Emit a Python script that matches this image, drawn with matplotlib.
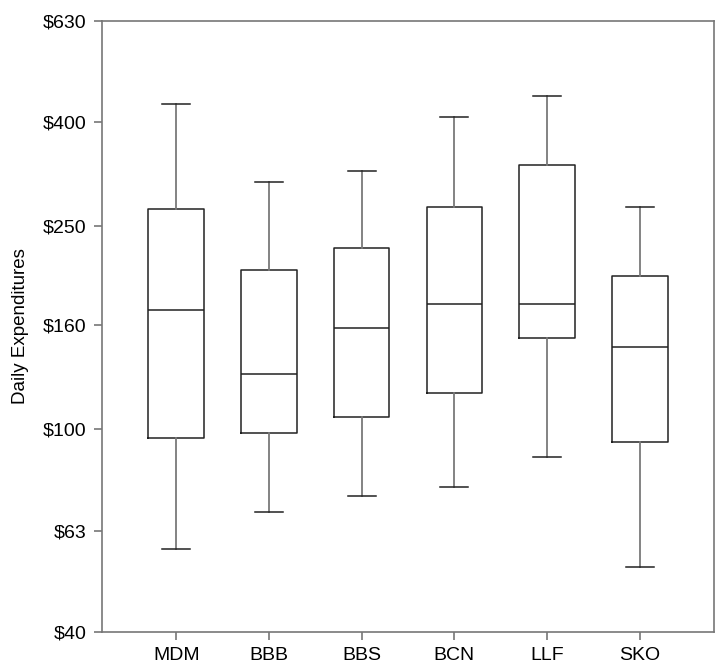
import matplotlib
matplotlib.use("Agg")
import matplotlib.pyplot as plt
from matplotlib.ticker import FixedLocator, NullLocator

plt.rcParams['font.family'] = ['Liberation Sans', 'DejaVu Sans']

# box plot stats (daily expenditures, $)
groups = ['MDM', 'BBB', 'BBS', 'BCN', 'LLF', 'SKO']
whislo = [58.3, 68.8, 73.9, 76.9, 88.1, 53.6]
q1 = [95.8, 98.0, 105.5, 117.6, 150.7, 94.1]
med = [171.0, 128.0, 157.6, 175.7, 175.7, 144.7]
q3 = [269.7, 204.8, 226.0, 272.0, 329.0, 199.0]
whishi = [432.7, 304.6, 320.0, 408.5, 449.0, 272.6]

yticks = [40, 63, 100, 160, 250, 400, 630]
ytick_labels = ['$40', '$63', '$100', '$160', '$250', '$400', '$630']

stats = []
for i, g in enumerate(groups):
    stats.append(dict(label=g, whislo=whislo[i], q1=q1[i], med=med[i],
                      q3=q3[i], whishi=whishi[i], fliers=[]))

fig = plt.figure(figsize=(7.17, 6.7), dpi=100)
ax = fig.add_axes([0.1423, 0.0567, 0.8535, 0.912])

box_col = '#222222'
whisk_col = '#7a7a7a'
ax.bxp(stats, positions=range(1, len(groups) + 1), widths=0.6,
       showfliers=False,
       boxprops=dict(color=box_col, linewidth=1.1),
       medianprops=dict(color=box_col, linewidth=1.1),
       whiskerprops=dict(color=whisk_col, linewidth=1.3),
       capprops=dict(color=box_col, linewidth=1.1))

ax.set_yscale('log')
ax.set_ylim(40, 630)
ax.set_xlim(0.2, 6.8)
ax.yaxis.set_major_locator(FixedLocator(yticks))
ax.yaxis.set_minor_locator(NullLocator())
ax.set_yticklabels(ytick_labels)
ax.set_xticks(range(1, len(groups) + 1))
ax.set_xticklabels(groups)

for s in ax.spines.values():
    s.set_color('#777777')
    s.set_linewidth(1.2)
ax.tick_params(axis='both', which='major', labelsize=14, length=6,
               color='#777777', width=1.2, pad=5)
ax.set_ylabel('Daily Expenditures', fontsize=13.5, labelpad=10)

fig.savefig('out.png', dpi=100)
